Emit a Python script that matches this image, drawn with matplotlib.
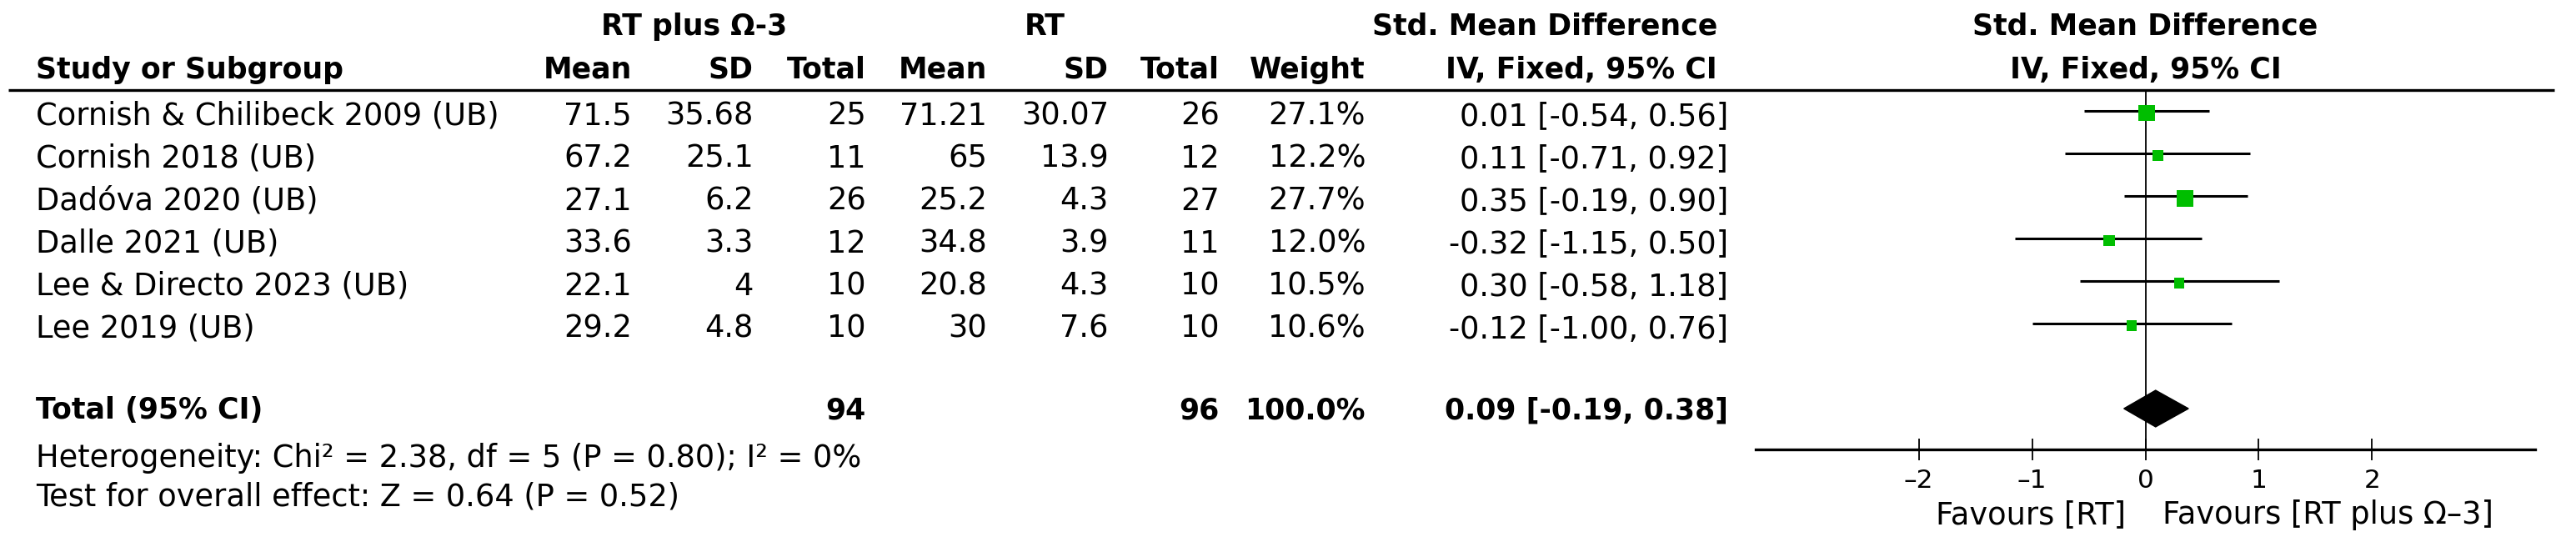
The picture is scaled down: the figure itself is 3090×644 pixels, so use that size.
import matplotlib.pyplot as plt
from matplotlib.patches import Polygon

# study data
studies = ["Cornish & Chilibeck 2009 (UB)", "Cornish 2018 (UB)", "Dadóva 2020 (UB)",
           "Dalle 2021 (UB)", "Lee & Directo 2023 (UB)", "Lee 2019 (UB)"]
mean_o3 = ["71.5", "67.2", "27.1", "33.6", "22.1", "29.2"]
sd_o3 = ["35.68", "25.1", "6.2", "3.3", "4", "4.8"]
n_o3 = [25, 11, 26, 12, 10, 10]
mean_rt = ["71.21", "65", "25.2", "34.8", "20.8", "30"]
sd_rt = ["30.07", "13.9", "4.3", "3.9", "4.3", "7.6"]
n_rt = [26, 12, 27, 11, 10, 10]
weight = [27.1, 12.2, 27.7, 12.0, 10.5, 10.6]
smd = [0.01, 0.11, 0.35, -0.32, 0.30, -0.12]
ci_lo = [-0.54, -0.71, -0.19, -1.15, -0.58, -1.00]
ci_hi = [0.56, 0.92, 0.90, 0.50, 1.18, 0.76]

total_n_o3, total_n_rt = 94, 96
total_weight = 100.0
total_smd, total_lo, total_hi = 0.09, -0.19, 0.38
heterogeneity = "Heterogeneity: Chi² = 2.38, df = 5 (P = 0.80); I² = 0%"
overall = "Test for overall effect: Z = 0.64 (P = 0.52)"
xticks = [-2, -1, 0, 1, 2]

W, H = 3090, 644
GREEN = "#00be00"
FS = 26.5
FSB = 25

fig = plt.figure(figsize=(W / 100, H / 100), dpi=100)
plt.rcParams['font.family'] = ['DejaVu Sans']

# rows: study i sits at y = i, pixel y = 133 + 51 * i
ylim = ((H - 133) / 51, -133 / 51)

tab = fig.add_axes([0, 0, 1, 1])
tab.set_xlim(0, W)
tab.set_ylim(*ylim)
tab.axis('off')

# column right edges (pixels)
c_name = 43
cols = [758, 904, 1039, 1184, 1330, 1463, 1638, 2073]

# headers
h1, h2 = -1.79, -0.77
bold = dict(va='baseline', fontsize=FSB, fontweight='bold')
tab.text(833, h1, "RT plus Ω-3", ha='center', **bold)
tab.text(1253, h1, "RT", ha='center', **bold)
tab.text(2060, h1, "Std. Mean Difference", ha='right', **bold)
tab.text(c_name, h2, "Study or Subgroup", ha='left', **bold)
for x, lab in zip(cols[:-1], ["Mean", "SD", "Total", "Mean", "SD", "Total", "Weight"]):
    tab.text(x, h2, lab, ha='right', **bold)
tab.text(2060, h2, "IV, Fixed, 95% CI", ha='right', **bold)
tab.plot([10, 3064], [-0.49, -0.49], color='black', lw=2.4, solid_capstyle='butt')

# study rows
for i in range(len(studies)):
    y = i + 0.33
    vals = [mean_o3[i], sd_o3[i], str(n_o3[i]), mean_rt[i], sd_rt[i], str(n_rt[i]),
            f"{weight[i]:.1f}%", f"{smd[i]:.2f} [{ci_lo[i]:.2f}, {ci_hi[i]:.2f}]"]
    tab.text(c_name, y, studies[i], ha='left', va='baseline', fontsize=FS)
    for x, v in zip(cols, vals):
        tab.text(x, y, v, ha='right', va='baseline', fontsize=FS)

# total row
yt = 7.0
ytxt = 7.24
tab.text(c_name, ytxt, "Total (95% CI)", ha='left', **bold)
tab.text(cols[2], ytxt, str(total_n_o3), ha='right', **bold)
tab.text(cols[5], ytxt, str(total_n_rt), ha='right', **bold)
tab.text(cols[6], ytxt, f"{total_weight:.1f}%", ha='right', **bold)
tab.text(cols[7], ytxt, f"{total_smd:.2f} [{total_lo:.2f}, {total_hi:.2f}]", ha='right', **bold)
tab.text(c_name, 8.37, heterogeneity, ha='left', va='baseline', fontsize=FS)
tab.text(c_name, 9.29, overall, ha='left', va='baseline', fontsize=FS)

# forest plot
ax = fig.add_axes([2106 / W, 0, (3041 - 2106) / W, 1])
ax.set_xlim(-3.44, 3.44)
ax.set_ylim(*ylim)
ax.patch.set_alpha(0)
for s in ['top', 'left', 'right']:
    ax.spines[s].set_visible(False)
ax.spines['bottom'].set_position(('data', 7.96))
ax.spines['bottom'].set_linewidth(2.4)
ax.set_yticks([])
ax.set_xticks(xticks)
ax.set_xticklabels([str(t).replace('-', '–') for t in xticks])
ax.tick_params(axis='x', direction='inout', length=19, width=1.3, labelsize=22.5, pad=7)

ax.text(0, h1, "Std. Mean Difference", ha='center', **bold)
ax.text(0, h2, "IV, Fixed, 95% CI", ha='center', **bold)

ax.vlines(0, -0.49, 7.96, color='black', lw=1.3)
rows = list(range(len(studies)))
ax.hlines(rows, ci_lo, ci_hi, color='black', lw=2.2)
ax.scatter(smd, [r + 0.05 for r in rows], s=[7.5 * w for w in weight], marker='s',
           color=GREEN, edgecolors='none', zorder=3)

dh = 0.43
ax.add_patch(Polygon([(total_lo, yt), (total_smd, yt - dh), (total_hi, yt), (total_smd, yt + dh)],
                     closed=True, color='black', zorder=3))

ax.text(-0.17, 9.71, "Favours [RT]", ha='right', va='baseline', fontsize=FS)
ax.text(0.15, 9.71, "Favours [RT plus Ω–3]", ha='left', va='baseline', fontsize=FS)

fig.savefig("out.png", dpi=100)
